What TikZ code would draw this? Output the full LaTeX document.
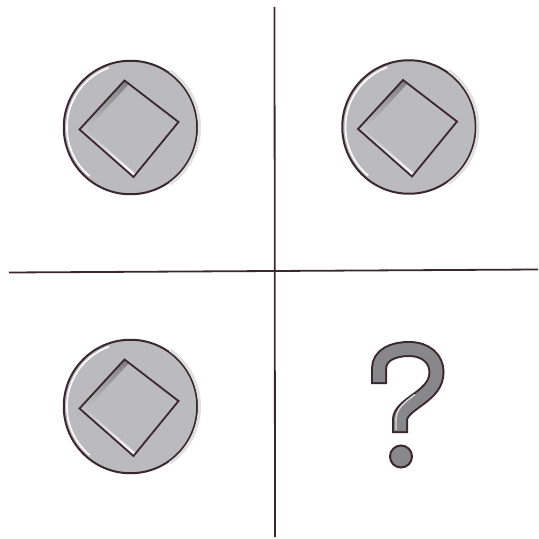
\documentclass[tikz,border=0pt]{standalone}
\definecolor{ink}{RGB}{58,40,46}
\definecolor{coinfill}{RGB}{187,187,189}
\definecolor{shade}{RGB}{130,130,134}
\definecolor{qfill}{RGB}{136,136,138}
\tikzset{
  divider/.style={draw=ink, line width=0.9pt},
  disc/.style={circle, draw=ink, fill=coinfill, line width=1pt, minimum size=133.5*0.5pt, inner sep=0pt},
  coin/.pic={
    \node[disc] (-disc) at (0,0) {};
    \draw[white, line width=0.8pt] (130:63.5) arc[start angle=130, end angle=250, radius=63.5];
    \draw[black!12, line width=1.5pt] (-55:69) arc[start angle=-55, end angle=55, radius=69];
    \fill[shade] (-6,-47) -- (48,-5.5) -- (3,49.5) -- (-51,2) -- cycle;
    \begin{scope}
      \clip (-6,-47) -- (48,-5.5) -- (3,49.5) -- (-51,2) -- cycle;
      \fill[coinfill] (1,-46) -- (55,-4.5) -- (10,50.5) -- (-44,3) -- cycle;
    \end{scope}
    \draw[ink, line width=0.9pt, line join=miter] (-6,-47) -- (48,-5.5) -- (3,49.5) -- (-51,2) -- cycle;
  },
  qstroke/.style={qfill, line width=6pt, line cap=butt,
    preaction={draw=ink, line width=8pt, shorten <=-1pt, shorten >=-1pt}},
}
\begin{document}
\begin{tikzpicture}[x=0.5pt,y=-0.5pt]
  \useasboundingbox (0,0) rectangle (538,539);
  \fill[white] (0,0) rectangle (538,539);
  % dividers
  \coordinate (vt) at (274.5,7);
  \coordinate (vb) at (275,537);
  \coordinate (hl) at (9,272.5);
  \coordinate (hr) at (538,269.5);
  \draw[divider] (vt) -- (vb);
  \draw[divider] (hl) -- (hr);
  % coins
  \pic (c1) at (130.5,127.5) {coin};
  \pic (c2) at (409,127) {coin};
  \pic (c3) at (130.5,406.5) {coin};
  % question mark
  \draw[qstroke] (379,382) -- (379,369) .. controls (379,355) and (393,349) .. (409,349)
     .. controls (426,349) and (436.5,359) .. (436.5,372)
     .. controls (436.5,384) and (429,391) .. (420,398)
     .. controls (409,406) and (400,412) .. (400,420) -- (400,431);
  \draw[white!70!qfill, line width=0.7pt] (396,430) -- (396,420)
     .. controls (396,409) and (404,402.5) .. (415,394.5);
  \node[circle, draw=ink, fill=qfill, line width=1pt, minimum size=11pt, inner sep=0pt] (qdot) at (401,456.5) {};
\end{tikzpicture}
\end{document}
